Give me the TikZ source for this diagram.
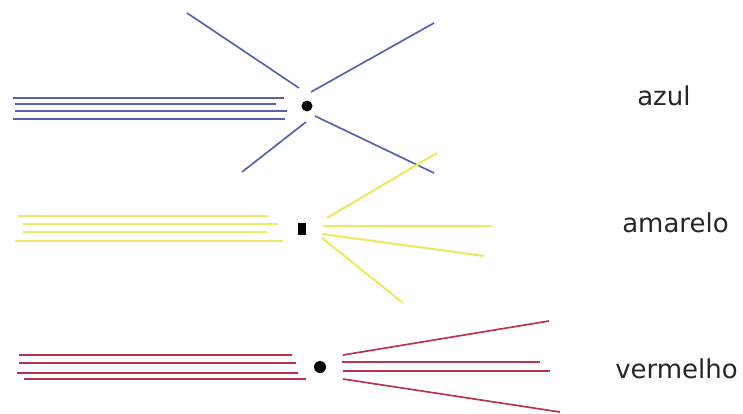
\documentclass[tikz,border=0pt]{standalone}
\usepackage{fontspec}
\setmainfont{DejaVu Sans}
\usepackage{tikz}
\usetikzlibrary{positioning}

\definecolor{azulc}{RGB}{85,98,170}
\definecolor{amareloc}{RGB}{240,232,100}
\definecolor{vermelhoc}{RGB}{185,50,78}

\begin{document}
\begin{tikzpicture}[
  x=0.75pt, y=-0.75pt,
  raio/.style={line width=1.25pt},
  ponto/.style={fill=black},
  rotulo/.style={anchor=base west, inner sep=0pt, font=\fontsize{19.5}{22}\selectfont, text=black!85}
]
\useasboundingbox (0,0) rectangle (743,414);
% azul
\draw[raio, azulc] (13,97.7) -- (284,97.7);
\draw[raio, azulc] (15,104.3) -- (276,104.3);
\draw[raio, azulc] (15,111) -- (287,111);
\draw[raio, azulc] (13,119) -- (285,119);
\fill[ponto] (307,106) circle (5.5);
\draw[raio, azulc] (187,13) -- (299,88);
\draw[raio, azulc] (311,92) -- (434,23);
\draw[raio, azulc] (306,122) -- (242,172);
\draw[raio, azulc] (315,116) -- (434,173);
\node[rotulo] (azul) at (637,105) {azul};
% amarelo
\draw[raio, amareloc, line width=1.6pt] (18,215.7) -- (268,215.7);
\draw[raio, amareloc, line width=1.6pt] (23,223.7) -- (278,223.7);
\draw[raio, amareloc, line width=1.6pt] (23,232.3) -- (267,232.3);
\draw[raio, amareloc, line width=1.6pt] (15,240.7) -- (283,240.7);
\fill[ponto] (298,223) rectangle (306,235);
\draw[raio, amareloc, line width=1.6pt] (327,218) -- (437,153);
\draw[raio, amareloc, line width=1.6pt] (323,226) -- (492,226);
\draw[raio, amareloc, line width=1.6pt] (322,234) -- (484,256);
\draw[raio, amareloc, line width=1.6pt] (322,238) -- (403,303);
\node[rotulo] (amarelo) at (622,232) {amarelo};
% vermelho
\draw[raio, vermelhoc] (19,355) -- (292,355);
\draw[raio, vermelhoc] (19,363) -- (296,363);
\draw[raio, vermelhoc] (17,373) -- (298,373);
\draw[raio, vermelhoc] (24,379) -- (306,379);
\fill[ponto] (320,367) circle (6);
\draw[raio, vermelhoc] (343,355) -- (549,321);
\draw[raio, vermelhoc] (342,362) -- (540,362);
\draw[raio, vermelhoc] (343,371) -- (550,371);
\draw[raio, vermelhoc] (343,379) -- (560,412);
\node[rotulo] (vermelho) at (615,378) {vermelho};
\end{tikzpicture}
\end{document}
